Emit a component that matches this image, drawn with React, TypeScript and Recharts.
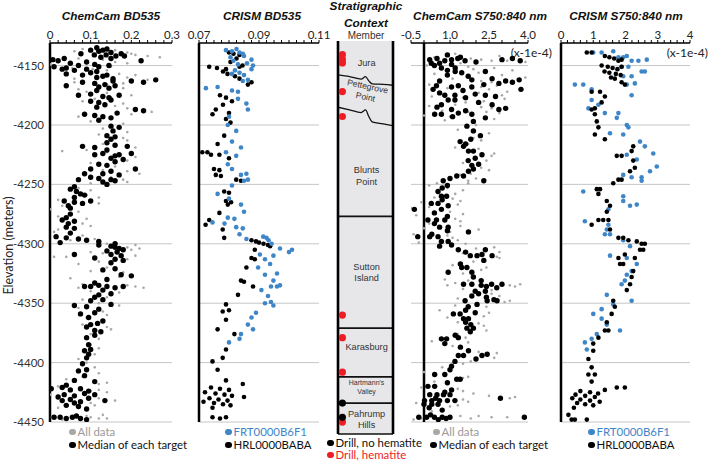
import { ScatterChart, ComposedChart, Scatter, Line, XAxis, YAxis, ReferenceLine, ReferenceArea } from 'recharts'

type Pt = [number, number] // [elevation, value]

const elevTicks = [-4450, -4400, -4350, -4300, -4250, -4200, -4150]
const ELEV_DOMAIN: [number, number] = [-4450, -4131]
const COLUMN_DOMAIN: [number, number] = [-4460, -4129.5]

const p1Ticks = [0, 0.02, 0.04, 0.06, 0.08, 0.1, 0.12, 0.14, 0.16, 0.18, 0.2, 0.22, 0.24, 0.26, 0.28, 0.3]
const p1Major = [0, 0.1, 0.2, 0.3]
const p2Ticks = [0.07, 0.0725, 0.075, 0.0775, 0.08, 0.0825, 0.085, 0.0875, 0.09, 0.0925, 0.095, 0.0975, 0.1, 0.1025, 0.105, 0.1075, 0.11]
const p2Major = [0.07, 0.09, 0.11]
const p4Ticks = [-0.5, 0, 0.5, 1, 1.5, 2, 2.5, 3, 3.5, 4]
const p4Major = [-0.5, 1, 2.5, 4]
const p5Ticks = [0, 0.2, 0.4, 0.6, 0.8, 1, 1.2, 1.4, 1.6, 1.8, 2, 2.2, 2.4, 2.6, 2.8, 3, 3.2, 3.4, 3.6, 3.8, 4]
const p5Major = [0, 1, 2, 3, 4]

// ChemCam BD535 - median of each target
const ccBdMedian: Pt[] = [
  [-4137, 0.10], [-4138, 0.12], [-4136, 0.14], [-4139, 0.15], [-4140, 0.076], [-4141, 0.109], [-4141, 0.138], [-4142, 0.162],
  [-4140, 0.175], [-4142, 0.183], [-4145, 0.007], [-4146, 0.02], [-4144, 0.035], [-4146, 0.224], [-4148, 0.05], [-4147, 0.09],
  [-4151, 0.01], [-4153, 0.03], [-4152, 0.04], [-4150, 0.07], [-4153, 0.09], [-4151, 0.12], [-4157, 0.04], [-4158, 0.08],
  [-4156, 0.10], [-4159, 0.13], [-4158, 0.14], [-4163, 0.20], [-4164, 0.23], [-4162, 0.26], [-4164, 0.08], [-4165, 0.11],
  [-4163, 0.155], [-4167, 0.04], [-4168, 0.12], [-4167, 0.16], [-4175, 0.07], [-4174, 0.10], [-4176, 0.13], [-4175, 0.17],
  [-4180, 0.10], [-4181, 0.12], [-4179, 0.15], [-4187, 0.21], [-4188, 0.23], [-4191, 0.085], [-4192, 0.11], [-4193, 0.13],
  [-4190, 0.165], [-4201, 0.15], [-4202, 0.17], [-4209, 0.14], [-4210, 0.16], [-4215, 0.14], [-4218, 0.08], [-4219, 0.11],
  [-4217, 0.16], [-4218, 0.19], [-4225, 0.11], [-4224, 0.13], [-4226, 0.16], [-4225, 0.17], [-4224, 0.20], [-4228, 0.15],
  [-4229, 0.18], [-4233, 0.12], [-4234, 0.14], [-4237, 0.10], [-4237, 0.21], [-4241, 0.085], [-4241, 0.13], [-4242, 0.17],
  [-4246, 0.07], [-4245, 0.12], [-4246, 0.15], [-4247, 0.16], [-4248, 0.13], [-4254, 0.05], [-4256, 0.065], [-4258, 0.075],
  [-4261, 0.06], [-4264, 0.035], [-4265, 0.06], [-4266, 0.08], [-4264, 0.10], [-4270, 0.05], [-4278, 0.04], [-4280, 0.03],
  [-4281, 0.06], [-4286, 0.04], [-4287, 0.06], [-4294, 0.015], [-4295, 0.04], [-4296, 0.07], [-4297, 0.09], [-4298, 0.12],
  [-4301, 0.12], [-4302, 0.15], [-4304, 0.17], [-4305, 0.18], [-4303, 0.16], [-4306, 0.14], [-4309, 0.06], [-4309, 0.15],
  [-4310, 0.175], [-4312, 0.11], [-4313, 0.16], [-4314, 0.18], [-4322, 0.13], [-4321, 0.16], [-4326, 0.175], [-4327, 0.20],
  [-4336, 0.085], [-4336, 0.10], [-4335, 0.12], [-4336, 0.14], [-4337, 0.16], [-4336, 0.18], [-4343, 0.12], [-4342, 0.15],
  [-4348, 0.10], [-4347, 0.13], [-4352, 0.06], [-4353, 0.09], [-4351, 0.15], [-4359, 0.075], [-4358, 0.11], [-4368, 0.10],
  [-4367, 0.117], [-4373, 0.11], [-4374, 0.125], [-4379, 0.09], [-4390, 0.085], [-4389, 0.10], [-4396, 0.09], [-4407, 0.07],
  [-4406, 0.09], [-4415, 0.06], [-4416, 0.11], [-4422, 0.003], [-4421, 0.03], [-4423, 0.05], [-4422, 0.075], [-4427, 0.035],
  [-4428, 0.06], [-4426, 0.085], [-4427, 0.11], [-4432, 0.03], [-4431, 0.05], [-4433, 0.075], [-4432, 0.135], [-4436, 0.04],
  [-4437, 0.07], [-4446, 0.01], [-4446, 0.025], [-4447, 0.04], [-4446, 0.055], [-4447, 0.075],
  [-4135, 0.115], [-4137, 0.13], [-4143, 0.125], [-4144, 0.15], [-4149, 0.11], [-4150, 0.145], [-4154, 0.06], [-4155, 0.115],
  [-4160, 0.115], [-4161, 0.155], [-4166, 0.135], [-4169, 0.145], [-4171, 0.115], [-4177, 0.145], [-4183, 0.135], [-4185, 0.115],
  [-4194, 0.15], [-4196, 0.12], [-4205, 0.155], [-4212, 0.15], [-4221, 0.14], [-4231, 0.16], [-4239, 0.15], [-4244, 0.10],
  [-4250, 0.14], [-4252, 0.06], [-4259, 0.085], [-4268, 0.045], [-4275, 0.05], [-4283, 0.045], [-4291, 0.05], [-4299, 0.025],
  [-4300, 0.16], [-4307, 0.165], [-4316, 0.15], [-4330, 0.14], [-4333, 0.11], [-4339, 0.13], [-4345, 0.11], [-4355, 0.12],
  [-4362, 0.095], [-4365, 0.13], [-4370, 0.09], [-4377, 0.11], [-4385, 0.095], [-4393, 0.095], [-4401, 0.08], [-4411, 0.085],
  [-4419, 0.04], [-4424, 0.095], [-4429, 0.02], [-4430, 0.095], [-4434, 0.06], [-4439, 0.09], [-4445, 0.065], [-4448, 0.09],
]

// ChemCam BD535 - all data
const ccBdAll: Pt[] = [
  [-4136, 0.08], [-4137, 0.16], [-4139, 0.19], [-4140, 0.20], [-4142, 0.24], [-4143, 0.27], [-4145, 0.13], [-4147, 0.16],
  [-4149, 0.0], [-4150, 0.005], [-4152, 0.055], [-4153, 0.105], [-4155, 0.06], [-4157, 0.17], [-4160, 0.19], [-4162, 0.24],
  [-4164, 0.06], [-4166, 0.14], [-4169, 0.18], [-4172, 0.09], [-4175, 0.20], [-4177, 0.15], [-4180, 0.08], [-4182, 0.18],
  [-4186, 0.19], [-4189, 0.25], [-4193, 0.07], [-4195, 0.15], [-4199, 0.18], [-4203, 0.13], [-4206, 0.19], [-4211, 0.18],
  [-4216, 0.13], [-4219, 0.21], [-4222, 0.03], [-4223, 0.14], [-4227, 0.21], [-4230, 0.19], [-4235, 0.16], [-4239, 0.19],
  [-4243, 0.10], [-4244, 0.15], [-4246, 0.18], [-4249, 0.10], [-4253, 0.07], [-4259, 0.09], [-4263, 0.02], [-4266, 0.12],
  [-4268, 0.03], [-4273, 0.07], [-4277, 0.02], [-4283, 0.08], [-4288, 0.02], [-4293, 0.08], [-4296, 0.11], [-4300, 0.14],
  [-4303, 0.19], [-4305, 0.20], [-4308, 0.13], [-4311, 0.01], [-4311, 0.04], [-4313, 0.19], [-4317, 0.07], [-4320, 0.14],
  [-4324, 0.18], [-4329, 0.05], [-4334, 0.08], [-4335, 0.19], [-4336, 0.21], [-4340, 0.10], [-4345, 0.14], [-4350, 0.12],
  [-4354, 0.07], [-4357, 0.13], [-4362, 0.09], [-4365, 0.13], [-4370, 0.14], [-4376, 0.10], [-4385, 0.10], [-4393, 0.11],
  [-4400, 0.09], [-4404, 0.11], [-4412, 0.08], [-4418, 0.12], [-4420, 0.02], [-4424, 0.10], [-4425, 0.14], [-4429, 0.02],
  [-4430, 0.12], [-4434, 0.10], [-4438, 0.02], [-4445, 0.09], [-4446, 0.10], [-4447, 0.12], [-4446, 0.005],
  [-4138, 0.06], [-4141, 0.21], [-4144, 0.07], [-4148, 0.19], [-4151, 0.15], [-4154, 0.14], [-4158, 0.21], [-4161, 0.06],
  [-4165, 0.18], [-4170, 0.07], [-4173, 0.14], [-4178, 0.11], [-4184, 0.16], [-4191, 0.20], [-4197, 0.10], [-4208, 0.12],
  [-4213, 0.19], [-4221, 0.09], [-4232, 0.10], [-4238, 0.13], [-4241, 0.22], [-4248, 0.19], [-4255, 0.10], [-4261, 0.12],
  [-4271, 0.0], [-4279, 0.09], [-4285, 0.10], [-4290, 0.01], [-4297, 0.05], [-4301, 0.21], [-4304, 0.22], [-4307, 0.10],
  [-4310, 0.21], [-4315, 0.12], [-4323, 0.10], [-4328, 0.17], [-4337, 0.07], [-4337, 0.23], [-4341, 0.17], [-4347, 0.08],
  [-4352, 0.17], [-4360, 0.14], [-4368, 0.08], [-4372, 0.15], [-4380, 0.12], [-4388, 0.12], [-4397, 0.07], [-4409, 0.12],
  [-4414, 0.04], [-4417, 0.14], [-4423, 0.12], [-4427, 0.00], [-4432, 0.16], [-4436, 0.11], [-4444, 0.13], [-4448, 0.03],
  [-4447, 0.14],
]

// CRISM BD535
const crBdFrt: Pt[] = [
  [-4137, 0.079], [-4138, 0.081], [-4136, 0.0825], [-4139, 0.0835], [-4140, 0.0846], [-4142, 0.085], [-4145, 0.0875], [-4148, 0.086],
  [-4150, 0.088], [-4153, 0.0875], [-4154, 0.082], [-4157, 0.081], [-4158, 0.085], [-4163, 0.0846], [-4162, 0.0863], [-4169, 0.0723],
  [-4168, 0.0762], [-4172, 0.083], [-4171, 0.081], [-4178, 0.083], [-4182, 0.0858], [-4187, 0.0863], [-4193, 0.080], [-4200, 0.0796],
  [-4205, 0.0824], [-4214, 0.081], [-4219, 0.084], [-4223, 0.079], [-4226, 0.0824], [-4233, 0.0796], [-4237, 0.081], [-4242, 0.084],
  [-4241, 0.0858], [-4247, 0.085], [-4246, 0.0863], [-4251, 0.081], [-4258, 0.0762], [-4262, 0.080], [-4267, 0.084], [-4273, 0.085],
  [-4278, 0.0796], [-4279, 0.0818], [-4282, 0.0745], [-4283, 0.0785], [-4286, 0.0824], [-4287, 0.0846], [-4292, 0.0835], [-4294, 0.0914],
  [-4295, 0.0925], [-4296, 0.0858], [-4297, 0.0932], [-4300, 0.0942], [-4305, 0.101], [-4304, 0.097], [-4307, 0.100], [-4310, 0.0948],
  [-4309, 0.0903], [-4313, 0.092], [-4317, 0.0937], [-4320, 0.0897], [-4326, 0.092], [-4325, 0.096], [-4331, 0.0948], [-4336, 0.094],
  [-4336, 0.096], [-4335, 0.097], [-4339, 0.0908], [-4344, 0.093], [-4350, 0.092], [-4349, 0.094], [-4352, 0.0948], [-4358, 0.089],
  [-4362, 0.0875], [-4368, 0.0863], [-4372, 0.088], [-4376, 0.084], [-4380, 0.0835], [-4383, 0.080], [-4143, 0.0805], [-4146, 0.0815],
  [-4149, 0.083], [-4156, 0.0835],
]

const crBdHrl: Pt[] = [
  [-4139, 0.080], [-4140, 0.0815], [-4141, 0.0835], [-4144, 0.0825], [-4147, 0.0805], [-4151, 0.0734], [-4152, 0.0760], [-4153, 0.079],
  [-4151, 0.0835], [-4150, 0.0845], [-4155, 0.078], [-4157, 0.0795], [-4159, 0.082], [-4161, 0.0835], [-4164, 0.0875], [-4166, 0.0863],
  [-4175, 0.077], [-4177, 0.079], [-4180, 0.081], [-4183, 0.078], [-4187, 0.0756], [-4191, 0.0745], [-4190, 0.080], [-4195, 0.079],
  [-4198, 0.0805], [-4209, 0.0784], [-4216, 0.0762], [-4223, 0.0711], [-4223, 0.0728], [-4225, 0.074], [-4225, 0.0768], [-4228, 0.080],
  [-4237, 0.075], [-4238, 0.0768], [-4242, 0.0756], [-4243, 0.0773], [-4246, 0.0824], [-4247, 0.084], [-4256, 0.0784], [-4257, 0.080],
  [-4264, 0.079], [-4265, 0.0807], [-4267, 0.0796], [-4274, 0.0768], [-4280, 0.0734], [-4284, 0.0722], [-4288, 0.0779], [-4295, 0.0784],
  [-4297, 0.0875], [-4298, 0.089], [-4299, 0.090], [-4300, 0.0915], [-4301, 0.0930], [-4302, 0.0937], [-4305, 0.0886], [-4312, 0.0875],
  [-4313, 0.0886], [-4320, 0.0858], [-4331, 0.084], [-4332, 0.085], [-4336, 0.088], [-4343, 0.083], [-4351, 0.079], [-4357, 0.0779],
  [-4356, 0.080], [-4364, 0.079], [-4372, 0.0762], [-4376, 0.0818], [-4389, 0.079], [-4396, 0.0779], [-4399, 0.0745], [-4406, 0.0762],
  [-4415, 0.079], [-4418, 0.0846], [-4421, 0.074], [-4422, 0.077], [-4423, 0.080], [-4425, 0.072], [-4426, 0.0755], [-4427, 0.0785],
  [-4428, 0.081], [-4429, 0.085], [-4430, 0.0735], [-4431, 0.0765], [-4432, 0.0795], [-4433, 0.0715], [-4434, 0.075], [-4435, 0.078],
  [-4436, 0.0805], [-4438, 0.0745], [-4446, 0.0745], [-4447, 0.077], [-4446, 0.079],
]

// ChemCam S750:840 (x 1e-4)
const ccSMedian: Pt[] = [
  [-4145, 0.22], [-4144, 0.5], [-4146, 0.8], [-4145, 1.06], [-4144, 1.3], [-4146, 1.58], [-4145, 3.0], [-4144, 3.4], [-4146, 3.7],
  [-4148, 0.28], [-4148, 0.6], [-4149, 1.06], [-4152, 0.67], [-4154, 0.9], [-4155, 1.2], [-4156, 1.45], [-4155, 2.36], [-4162, 1.84],
  [-4161, 2.62], [-4163, 3.14], [-4162, 3.66], [-4165, 2.88], [-4164, 3.4], [-4167, 0.48], [-4168, 1.06], [-4167, 1.32], [-4168, 1.84],
  [-4170, 0.35], [-4170, 3.73], [-4175, 0.8], [-4175, 1.19], [-4174, 1.97], [-4175, 2.36], [-4176, 2.75], [-4179, 0.93], [-4179, 1.19],
  [-4183, 0.67], [-4183, 2.62], [-4187, 1.06], [-4187, 2.88], [-4186, 3.14], [-4191, 0.41], [-4191, 0.67], [-4190, 1.32], [-4191, 1.84],
  [-4194, 2.36], [-4201, 1.65], [-4209, 2.17], [-4214, 1.39], [-4218, 1.52], [-4222, 1.71], [-4222, 1.9], [-4225, 2.23], [-4228, 1.97],
  [-4233, 2.1], [-4234, 1.84], [-4239, 1.71], [-4243, 1.26], [-4243, 1.52], [-4247, 0.74], [-4247, 2.3], [-4256, 0.54], [-4260, 0.67],
  [-4260, 0.87], [-4266, 0.28], [-4266, 0.54], [-4268, 0.93], [-4271, -0.37], [-4271, 0.67], [-4280, 0.15], [-4280, 0.48], [-4280, 0.8],
  [-4286, 0.6], [-4286, 0.93], [-4290, 1.71], [-4294, -0.24], [-4294, 0.22], [-4294, 0.54], [-4298, 0.67], [-4298, 0.93], [-4301, 1.06],
  [-4305, 1.32], [-4305, 2.36], [-4310, 1.78], [-4310, 2.04], [-4309, 2.23], [-4310, 2.62], [-4320, 1.45], [-4320, 1.65], [-4324, 0.93],
  [-4324, 1.84], [-4334, 1.52], [-4334, 1.84], [-4335, 2.2], [-4334, 2.6], [-4334, 3.0], [-4340, 1.97], [-4340, 2.36], [-4344, 1.84],
  [-4348, 1.58], [-4348, 2.43], [-4347, 2.69], [-4348, 2.81], [-4351, 2.04], [-4359, 1.13], [-4359, 1.39], [-4358, 1.97], [-4363, 1.52],
  [-4363, 1.71], [-4371, 1.65], [-4371, 1.9], [-4374, 1.78], [-4380, 0.67], [-4380, 0.87], [-4379, 1.32], [-4390, 1.71], [-4394, 1.32],
  [-4394, 1.52], [-4394, 2.23], [-4393, 2.43], [-4399, 1.19], [-4403, 1.06], [-4410, 0.41], [-4410, 0.8], [-4414, 1.26], [-4414, 1.39],
  [-4420, 0.15], [-4420, 0.41], [-4423, 1.06], [-4427, 0.22], [-4427, 0.5], [-4427, 0.75], [-4427, 1.0], [-4430, 2.94], [-4432, 0.02],
  [-4432, 0.3], [-4432, 0.6], [-4432, 0.9], [-4432, 1.19], [-4435, 0.0], [-4435, 0.3], [-4435, 0.54], [-4446, -0.2], [-4446, 0.1],
  [-4446, 0.4], [-4446, 0.7], [-4446, 1.0], [-4446, 3.86],
  [-4141, 0.9], [-4143, 1.4], [-4147, 2.0], [-4150, 0.4], [-4152, 1.2], [-4158, 0.9], [-4159, 1.7], [-4163, 0.6], [-4166, 2.3],
  [-4171, 1.5], [-4173, 0.6], [-4177, 1.6], [-4181, 2.1], [-4185, 0.5], [-4188, 1.6], [-4193, 1.1], [-4197, 1.9], [-4205, 1.9],
  [-4212, 1.8], [-4216, 1.6], [-4230, 1.7], [-4237, 1.9], [-4245, 1.0], [-4251, 0.9], [-4253, 0.7], [-4263, 0.7], [-4274, 0.4],
  [-4277, 0.9], [-4283, 0.4], [-4289, 0.9], [-4292, 0.3], [-4302, 0.6], [-4307, 1.6], [-4314, 2.3], [-4317, 1.4], [-4328, 1.9],
  [-4331, 2.2], [-4336, 2.4], [-4337, 2.8], [-4342, 2.1], [-4345, 2.4], [-4353, 1.7], [-4356, 1.6], [-4366, 1.6], [-4368, 1.8],
  [-4377, 1.2], [-4384, 0.8], [-4387, 1.4], [-4397, 2.0], [-4406, 1.0], [-4417, 0.9], [-4425, 0.8], [-4430, 0.45], [-4438, 0.2],
  [-4440, 0.7], [-4444, 0.25], [-4448, 0.55], [-4447, 0.85],
]

const ccSAll: Pt[] = [
  [-4143, 0.4], [-4144, 1.8], [-4145, 2.2], [-4146, 2.6], [-4147, 3.9], [-4150, 0.1], [-4151, 1.7], [-4153, 1.9], [-4156, 2.1],
  [-4158, 3.0], [-4160, 3.9], [-4163, 2.2], [-4166, 0.2], [-4168, 2.2], [-4170, 2.5], [-4172, 3.2], [-4176, 0.3], [-4177, 1.5],
  [-4178, 3.1], [-4181, 1.6], [-4184, 0.2], [-4185, 2.2], [-4188, 0.7], [-4189, 1.7], [-4189, 2.4], [-4192, 0.0], [-4193, 1.0],
  [-4195, 2.7], [-4198, 1.9], [-4204, 1.3], [-4211, 1.9], [-4216, 1.7], [-4220, 2.1], [-4226, 2.6], [-4230, 2.4], [-4236, 2.2],
  [-4241, 1.8], [-4244, 1.0], [-4245, 2.0], [-4249, 0.5], [-4249, 1.7], [-4253, 0.9], [-4258, 1.2], [-4262, 1.1], [-4265, -0.1],
  [-4267, 1.3], [-4270, -0.5], [-4273, 1.0], [-4276, -0.3], [-4279, 1.2], [-4283, 0.2], [-4285, 1.4], [-4288, 2.1], [-4292, -0.4],
  [-4293, 0.9], [-4297, 1.3], [-4300, 1.6], [-4303, 2.7], [-4308, 1.5], [-4312, 2.9], [-4318, 1.1], [-4322, 2.2], [-4330, 0.8],
  [-4333, 1.2], [-4335, 3.3], [-4336, 3.5], [-4338, 1.5], [-4342, 2.6], [-4346, 1.3], [-4349, 3.1], [-4353, 2.4], [-4356, 0.6],
  [-4361, 2.3], [-4366, 1.3], [-4369, 2.3], [-4376, 1.3], [-4382, 0.3], [-4383, 1.7], [-4391, 2.1], [-4396, 2.7], [-4401, 1.5],
  [-4408, 0.0], [-4412, 1.7], [-4418, 0.9], [-4421, -0.1], [-4424, 1.5], [-4428, 2.5], [-4430, 3.3], [-4431, 1.5], [-4434, -0.3],
  [-4437, 1.0], [-4445, 1.4], [-4447, 1.8], [-4446, 2.6], [-4448, -0.4],
  [-4140, 1.2], [-4142, 2.9], [-4146, 3.2], [-4148, 1.4], [-4152, 2.7], [-4154, 3.4], [-4157, 0.4], [-4161, 1.1], [-4164, 2.6],
  [-4167, 2.8], [-4169, 0.9], [-4173, 2.1], [-4175, 3.0], [-4180, 2.3], [-4183, 1.2], [-4186, 2.6], [-4190, 2.9], [-4196, 0.8],
  [-4200, 2.0], [-4207, 2.5], [-4213, 2.2], [-4219, 1.2], [-4224, 2.7], [-4232, 1.5], [-4238, 2.5], [-4242, 1.4], [-4247, 1.7],
  [-4251, 0.2], [-4255, 1.5], [-4261, 0.4], [-4264, 1.4], [-4269, 0.2], [-4275, 1.5], [-4281, 1.4], [-4287, 0.0], [-4290, 1.0],
  [-4295, 1.1], [-4299, -0.2], [-4304, 2.0], [-4307, 2.9], [-4311, 2.8], [-4315, 1.9], [-4320, 2.4], [-4325, 1.5], [-4331, 1.7],
  [-4334, 3.7], [-4335, 0.9], [-4339, 2.6], [-4344, 2.9], [-4348, 3.3], [-4352, 1.2], [-4358, 2.5], [-4362, 0.9], [-4367, 2.1],
  [-4373, 2.4], [-4379, 1.6], [-4386, 1.1], [-4392, 2.8], [-4399, 1.8], [-4404, 0.7], [-4413, 1.5], [-4416, 0.4], [-4422, 1.3],
  [-4426, 1.9], [-4429, 3.5], [-4433, 1.7], [-4436, 1.3], [-4441, 0.3], [-4445, 2.1], [-4446, 3.2], [-4447, -0.1],
]

// CRISM S750:840 (x 1e-4)
const crSFrt: Pt[] = [
  [-4139, 1.0], [-4139, 1.26], [-4138, 1.62], [-4143, 1.78], [-4143, 1.93], [-4142, 2.04], [-4146, 2.19], [-4146, 2.4], [-4145, 2.66],
  [-4151, 1.88], [-4151, 2.09], [-4155, 2.5], [-4155, 2.6], [-4159, 1.93], [-4159, 2.19], [-4166, 0.43], [-4166, 0.69], [-4166, 2.04],
  [-4165, 2.29], [-4170, 0.95], [-4175, 2.19], [-4179, 0.95], [-4183, 1.16], [-4186, 0.85], [-4190, 1.36], [-4190, 1.78], [-4194, 1.73],
  [-4200, 2.04], [-4202, 2.09], [-4207, 1.52], [-4208, 1.93], [-4214, 2.45], [-4218, 2.6], [-4224, 2.86], [-4225, 2.04], [-4229, 2.35],
  [-4235, 2.97], [-4239, 2.76], [-4242, 1.93], [-4244, 2.19], [-4244, 2.5], [-4247, 2.5], [-4256, 0.69], [-4260, 1.93], [-4264, 1.93],
  [-4267, 2.35], [-4268, 2.14], [-4271, 1.47], [-4281, 0.74], [-4284, 1.47], [-4288, 1.42], [-4292, 1.36], [-4292, 1.52], [-4297, 1.93],
  [-4302, 2.14], [-4310, 1.52], [-4312, 2.04], [-4317, 2.35], [-4323, 2.19], [-4326, 2.04], [-4331, 1.98], [-4334, 1.88], [-4343, 1.42],
  [-4348, 2.19], [-4351, 1.62], [-4355, 1.26], [-4359, 1.0], [-4363, 1.26], [-4368, 1.42], [-4373, 1.83], [-4376, 1.11], [-4380, 0.95],
  [-4383, 0.74], [-4389, 0.8],
]

const crSHrl: Pt[] = [
  [-4139, 0.8], [-4139, 0.95], [-4142, 1.36], [-4143, 1.5], [-4144, 1.65], [-4146, 1.78], [-4145, 1.88], [-4150, 1.26], [-4151, 1.45],
  [-4152, 1.6], [-4153, 1.75], [-4151, 1.88], [-4155, 1.35], [-4156, 1.5], [-4157, 1.7], [-4158, 1.85], [-4160, 1.55], [-4161, 1.67],
  [-4164, 1.88], [-4166, 1.98], [-4172, 0.95], [-4172, 1.21], [-4176, 1.36], [-4181, 1.26], [-4187, 0.95], [-4186, 1.05], [-4191, 1.05],
  [-4197, 1.11], [-4202, 1.16], [-4208, 1.05], [-4212, 1.36], [-4218, 2.24], [-4222, 2.19], [-4226, 1.73], [-4226, 1.88], [-4230, 2.24],
  [-4236, 2.29], [-4239, 2.14], [-4246, 1.78], [-4246, 1.88], [-4249, 1.62], [-4254, 1.11], [-4254, 1.21], [-4258, 1.16], [-4264, 1.42],
  [-4268, 1.52], [-4273, 1.42], [-4280, 1.16], [-4280, 1.31], [-4280, 1.47], [-4284, 0.95], [-4288, 1.52], [-4295, 1.78], [-4295, 1.93],
  [-4297, 2.09], [-4298, 2.35], [-4300, 2.5], [-4300, 2.6], [-4305, 2.45], [-4305, 2.55], [-4309, 1.98], [-4312, 1.78], [-4312, 2.29],
  [-4317, 1.83], [-4317, 1.93], [-4323, 2.24], [-4328, 2.19], [-4334, 2.14], [-4339, 2.04], [-4348, 1.62], [-4353, 1.67], [-4359, 1.57],
  [-4366, 1.42], [-4373, 1.36], [-4373, 1.47], [-4379, 1.16], [-4384, 1.0], [-4390, 1.0], [-4397, 0.85], [-4404, 0.95], [-4410, 0.85],
  [-4410, 1.05], [-4416, 0.95], [-4421, 1.73], [-4421, 1.98], [-4423, 1.36], [-4424, 0.6], [-4425, 0.9], [-4426, 1.15], [-4427, 0.45],
  [-4428, 0.75], [-4429, 1.05], [-4430, 0.35], [-4431, 0.6], [-4432, 0.9], [-4433, 1.2], [-4434, 0.5], [-4435, 0.75], [-4436, 1.0],
  [-4438, 0.4], [-4444, 0.23], [-4448, 0.33], [-4448, 0.43], [-4448, 0.8],
]

// stratigraphic column
const memberNames = ['Jura', 'Pettegrove Point', 'Blunts Point', 'Sutton Island', 'Karasburg', "Hartmann's Valley", 'Pahrump Hills']
const memberLabelElev = [-4148, -4172, -4243, -4324, -4387, -4420, -4448]
const straightBoundaries = [-4277, -4371, -4412, -4434, -4460]
const wavyX = [0, 0.21, 0.42, 0.5, 0.56, 0.62, 0.82, 1]
const juraBase = [-4158, -4159.4, -4161.6, -4159.5, -4163, -4165.5, -4166, -4166.7]
const pettegroveBase = [-4185.2, -4187.4, -4189.7, -4187.5, -4193, -4197.5, -4199.2, -4200.8]
const drillHematite = [-4141, -4145, -4148, -4172, -4193, -4360, -4379, -4408, -4450]
const drillNoHematite = [-4434, -4446]

const BLUE = '#3f86c8'
const GREY = '#a8a8a8'
const RED = '#ee1c24'
const TICK_FONT = 'Lato, "Liberation Sans", sans-serif'

const toXY = (pts: Pt[]) => pts.map(([y, x]) => ({ x, y }))
const dot = (color: string, r: number) => (p: any) => <circle cx={p.cx} cy={p.cy} r={r} fill={color} />

interface Layer { pts: Pt[]; color: string; r: number }
interface PanelProps {
  plotLeft: number
  plotWidth: number
  domain: [number, number]
  ticks: number[]
  majors: number[]
  fmt: (v: number) => string
  layers: Layer[]
  showY?: boolean
  edgeAt?: number
}

function Panel({ plotLeft, plotWidth, domain, ticks, majors, fmt, layers, showY, edgeAt }: PanelProps) {
  const padL = showY ? 50 : 14
  const padR = 14
  const label = (v: number) => (majors.some((m) => Math.abs(m - v) < 1e-9) ? fmt(v) : '')
  return (
    <div style={{ position: 'absolute', left: plotLeft - padL, top: 0 }}>
      <ScatterChart width={plotWidth + padL + padR} height={430} margin={{ top: 23, right: padR, bottom: 8, left: showY ? 0 : padL }}>
        <XAxis
          type="number" dataKey="x" orientation="top" domain={domain} ticks={ticks} interval={0} allowDataOverflow
          height={20} tickSize={3} tickMargin={1} tickFormatter={label}
          axisLine={{ stroke: '#000', strokeWidth: 1.5 }} tickLine={{ stroke: '#000' }}
          tick={{ fontSize: 11.5, fill: '#222', fontFamily: TICK_FONT }}
        />
        <YAxis
          type="number" dataKey="y" domain={ELEV_DOMAIN} ticks={elevTicks} interval={0} allowDataOverflow
          hide={!showY} width={50} tickSize={0} tickMargin={6}
          axisLine={{ stroke: '#000', strokeWidth: 2.5 }}
          tick={{ fontSize: 11.5, fill: '#333', fontFamily: TICK_FONT }}
        />
        {elevTicks.map((v) => (
          <ReferenceLine key={v} y={v} stroke="#c6c6c6" strokeWidth={1} />
        ))}
        {edgeAt !== undefined && <ReferenceLine x={edgeAt} stroke="#000" strokeWidth={2.5} />}
        {layers.map((l, i) => (
          <Scatter key={i} data={toXY(l.pts)} fill={l.color} shape={dot(l.color, l.r)} isAnimationActive={false} />
        ))}
      </ScatterChart>
    </div>
  )
}

const memberStyle: Record<string, { size: number; tilt?: number }> = {
  "Hartmann's Valley": { size: 7 },
  'Pettegrove Point': { size: 8.6, tilt: 12 },
}

const memberShape = (p: any) => {
  const name: string = p.payload.name
  const st = memberStyle[name] || { size: 9.2 }
  const lines = name === 'Jura' || name === 'Karasburg' ? [name] : name.split(' ')
  const lh = st.size * 1.25
  const y0 = p.cy - ((lines.length - 1) * lh) / 2
  return (
    <text
      textAnchor="middle" dominantBaseline="central" fontSize={st.size} fill="#333"
      fontFamily='"Liberation Sans", Arial, sans-serif'
      transform={st.tilt ? `rotate(${st.tilt} ${p.cx} ${p.cy})` : undefined}
    >
      {lines.map((l, i) => (
        <tspan key={i} x={p.cx} y={y0 + i * lh}>{l}</tspan>
      ))}
    </text>
  )
}

function Column() {
  const labels = memberNames.map((name, i) => ({ x: 0.52, y: memberLabelElev[i], name }))
  const jura = wavyX.map((x, i) => ({ x, y: juraBase[i] }))
  const pett = wavyX.map((x, i) => ({ x, y: pettegroveBase[i] }))
  return (
    <div style={{ position: 'absolute', left: 336, top: 0 }}>
      <ComposedChart width={59} height={436} margin={{ top: 41, right: 2, bottom: 2, left: 2 }}>
        <XAxis type="number" dataKey="x" domain={[0, 1]} hide allowDataOverflow />
        <YAxis type="number" dataKey="y" domain={COLUMN_DOMAIN} hide allowDataOverflow />
        <ReferenceArea x1={0} x2={1} y1={COLUMN_DOMAIN[0]} y2={COLUMN_DOMAIN[1]} fill="#e7e7ea" fillOpacity={1} stroke="none" />
        {straightBoundaries.map((b) => (
          <ReferenceLine key={b} y={b} stroke="#111" strokeWidth={1.6} />
        ))}
        <Line data={jura} dataKey="y" type="monotone" stroke="#111" strokeWidth={1.3} dot={false} isAnimationActive={false} />
        <Line data={pett} dataKey="y" type="monotone" stroke="#111" strokeWidth={1.3} dot={false} isAnimationActive={false} />
        <ReferenceLine x={0} stroke="#000" strokeWidth={2.6} />
        <ReferenceLine x={1} stroke="#000" strokeWidth={2.6} />
        <Scatter data={labels} shape={memberShape} isAnimationActive={false} />
        <Scatter data={drillHematite.map((y) => ({ x: 0.08, y }))} shape={dot(RED, 3.6)} isAnimationActive={false} />
        <Scatter data={drillNoHematite.map((y) => ({ x: 0.08, y }))} shape={dot('#000', 3.6)} isAnimationActive={false} />
      </ComposedChart>
    </div>
  )
}

const titleStyle = {
  position: 'absolute' as const,
  width: 200,
  textAlign: 'center' as const,
  fontFamily: '"Liberation Sans", Arial, sans-serif',
  fontWeight: 700,
  fontStyle: 'italic',
  fontSize: 11.8,
  color: '#111',
  lineHeight: '16px',
}

function Title({ cx, top, text }: { cx: number; top: number; text: string }) {
  return <div style={{ ...titleStyle, left: cx - 100, top }}>{text}</div>
}

function LegendRow({ left, top, color, textColor, text }: { left: number; top: number; color: string; textColor: string; text: string }) {
  return (
    <div style={{ position: 'absolute', left, top, display: 'flex', alignItems: 'center', fontFamily: TICK_FONT, fontSize: 11.4, color: textColor, lineHeight: '12px', whiteSpace: 'nowrap' }}>
      <span style={{ width: 6.5, height: 6.5, borderRadius: '50%', background: color, marginRight: 2, display: 'inline-block' }} />
      {text}
    </div>
  )
}

export default function App() {
  return (
    <div style={{ position: 'absolute', left: 0, top: 0, width: 709, height: 462, background: '#fff', overflow: 'hidden' }}>
      <Title cx={111} top={8} text="ChemCam BD535" />
      <Title cx={262} top={8} text="CRISM BD535" />
      <Title cx={366} top={-2} text="Stratigraphic" />
      <Title cx={366} top={15} text="Context" />
      <Title cx={480} top={8} text="ChemCam S750:840 nm" />
      <Title cx={626} top={8} text="CRISM S750:840 nm" />
      <div style={{ position: 'absolute', left: 336, width: 60, top: 30, textAlign: 'center', fontFamily: '"Liberation Sans", Arial, sans-serif', fontSize: 10, color: '#333' }}>Member</div>
      <div style={{ position: 'absolute', left: 492, width: 60, top: 45, textAlign: 'right', fontFamily: TICK_FONT, fontSize: 12, color: '#222' }}>(x-1e-4)</div>
      <div style={{ position: 'absolute', left: 648, width: 60, top: 45, textAlign: 'right', fontFamily: TICK_FONT, fontSize: 12, color: '#222' }}>(x-1e-4)</div>
      <div style={{ position: 'absolute', left: 8 - 70, top: 238, width: 140, textAlign: 'center', transform: 'rotate(-90deg)', fontFamily: TICK_FONT, fontSize: 12.5, color: '#222' }}>
        Elevation (meters)
      </div>

      <Panel plotLeft={50} plotWidth={122} domain={[0, 0.3]} ticks={p1Ticks} majors={p1Major} fmt={(v) => String(v)} showY
        layers={[{ pts: ccBdAll, color: GREY, r: 1.3 }, { pts: ccBdMedian, color: '#000', r: 2.7 }]} />
      <Panel plotLeft={199} plotWidth={120} domain={[0.07, 0.11]} ticks={p2Ticks} majors={p2Major} fmt={(v) => String(v)} edgeAt={0.07}
        layers={[{ pts: crBdHrl, color: '#000', r: 2.3 }, { pts: crBdFrt, color: BLUE, r: 2.3 }]} />
      <Column />
      <Panel plotLeft={411} plotWidth={117} domain={[-0.5, 4]} ticks={p4Ticks} majors={p4Major} fmt={(v) => v.toFixed(1)} edgeAt={0}
        layers={[{ pts: ccSAll, color: GREY, r: 1.3 }, { pts: ccSMedian, color: '#000', r: 2.7 }]} />
      <Panel plotLeft={561} plotWidth={129} domain={[0, 4]} ticks={p5Ticks} majors={p5Major} fmt={(v) => String(v)} edgeAt={0}
        layers={[{ pts: crSFrt, color: BLUE, r: 2.3 }, { pts: crSHrl, color: '#000', r: 2.3 }]} />

      <LegendRow left={69} top={426} color={GREY} textColor="#999" text="All data" />
      <LegendRow left={69} top={439} color="#000" textColor="#111" text="Median of each target" />
      <LegendRow left={225} top={426} color={BLUE} textColor={BLUE} text="FRT0000B6F1" />
      <LegendRow left={225} top={439} color="#000" textColor="#111" text="HRL0000BABA" />
      <LegendRow left={327} top={437} color="#000" textColor="#111" text="Drill, no hematite" />
      <LegendRow left={327} top={449} color={RED} textColor={RED} text="Drill, hematite" />
      <LegendRow left={433} top={426} color={GREY} textColor="#999" text="All data" />
      <LegendRow left={430} top={439} color="#000" textColor="#111" text="Median of each target" />
      <LegendRow left={588} top={426} color={BLUE} textColor={BLUE} text="FRT0000B6F1" />
      <LegendRow left={588} top={439} color="#000" textColor="#111" text="HRL0000BABA" />
    </div>
  )
}
